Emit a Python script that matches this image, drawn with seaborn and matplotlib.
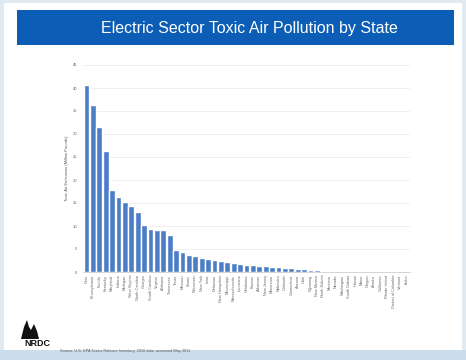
import matplotlib
matplotlib.use("Agg")
import matplotlib.pyplot as plt
from matplotlib.patches import Rectangle, Polygon
import pandas as pd
import seaborn as sns

# Electric-sector toxic air emissions by state, million pounds
states = [
    "Ohio", "Pennsylvania", "Florida", "Kentucky", "Maryland", "Indiana",
    "Michigan", "West Virginia", "North Carolina", "Georgia", "South Carolina",
    "Virginia", "Alabama", "Tennessee", "Texas", "Missouri", "Illinois",
    "Wisconsin", "New York", "Iowa", "Delaware", "New Hampshire", "Mississippi",
    "Massachusetts", "Louisiana", "Oklahoma", "Kansas", "Arkansas", "New Jersey",
    "Minnesota", "Nebraska", "Colorado", "Connecticut", "Arizona", "Utah",
    "Wyoming", "New Mexico", "North Dakota", "Montana", "Nevada", "Washington",
    "South Dakota", "Hawaii", "Maine", "Oregon", "Alaska", "California",
    "Rhode Island", "District of Columbia", "Vermont", "Idaho",
]
emissions = [
    40.7, 36.3, 31.5, 26.2, 17.8, 16.4, 15.3, 14.4, 13.1, 10.2, 9.4, 9.2,
    9.1, 8.0, 4.8, 4.3, 3.8, 3.4, 3.1, 2.8, 2.6, 2.4, 2.2, 2.0, 1.8, 1.6,
    1.5, 1.3, 1.2, 1.1, 1.0, 0.9, 0.8, 0.7, 0.6, 0.5, 0.4, 0.3, 0.2, 0.15,
    0.1, 0.08, 0.06, 0.05, 0.04, 0.03, 0.02, 0.02, 0.01, 0.01, 0.005,
]
y_ticks = [0, 5, 10, 15, 20, 25, 30, 35, 40, 45]

title = "Electric Sector Toxic Air Pollution by State"
y_label = "Toxic Air Emissions (Million Pounds)"
source = "Source: U.S. EPA Toxics Release Inventory, 2010 data, accessed May 2011"

df = pd.DataFrame({"state": states, "emissions": emissions})

sns.set_theme(style="white")
plt.rcParams["font.family"] = ["Liberation Sans", "DejaVu Sans"]

W, H = 466, 360
fig = plt.figure(figsize=(W / 100, H / 100), dpi=100)
fig.patch.set_facecolor("#e2eaf1")

# slide body, bottom band and title banner
fig.patches.append(Rectangle((4 / W, 1 - 350 / H), 458 / W, 347 / H,
                             transform=fig.transFigure, facecolor="white",
                             edgecolor="none", zorder=-2))
fig.patches.append(Rectangle((0, 0), 1, 10 / H, transform=fig.transFigure,
                             facecolor="#cbdcea", edgecolor="none", zorder=-2))
fig.patches.append(Rectangle((17 / W, 1 - 45 / H), 437 / W, 35 / H,
                             transform=fig.transFigure, facecolor="#0b5db5",
                             edgecolor="none", zorder=-1))
fig.text(249 / W, 1 - 28 / H, title, color="white", fontsize=11.5,
         ha="center", va="center", zorder=2)

ax = fig.add_axes([83 / W, 1 - 272 / H, 327 / W, 207 / H])
ax.set_zorder(5)
sns.barplot(data=df, x="state", y="emissions", color="#4b7ec6",
            saturation=1, width=0.9, ax=ax, zorder=2)
ax.set_ylim(0, 45)
ax.set_xlim(-0.55, len(states) - 0.45)
ax.set_yticks(y_ticks)
ax.set_yticklabels([str(t) for t in y_ticks], fontsize=3, color="#666666")
ax.tick_params(axis="y", length=0, pad=4)
ax.tick_params(axis="x", length=0, pad=2)
ax.set_xticks(range(len(states)))
ax.set_xticklabels(states, rotation=90, fontsize=2.8, color="#666666")
ax.set_xlabel("")
ax.set_ylabel(y_label, fontsize=3, color="#555555", labelpad=3)
ax.yaxis.grid(True, color="#ececec", linewidth=0.6, zorder=0)
ax.set_axisbelow(True)
for s in ["top", "right", "left"]:
    ax.spines[s].set_visible(False)
ax.spines["bottom"].set_color("#c4c4c4")
ax.spines["bottom"].set_linewidth(0.5)
ax.set_facecolor("none")

# NRDC mark and source note
fig.patches.append(Polygon(
    [(21 / W, 1 - 339 / H), (24 / W, 1 - 327 / H), (27 / W, 1 - 320 / H),
     (29 / W, 1 - 327 / H), (31 / W, 1 - 330 / H), (34 / W, 1 - 324 / H),
     (37 / W, 1 - 331 / H), (39 / W, 1 - 339 / H)],
    closed=True, transform=fig.transFigure, facecolor="#111111",
    edgecolor="none", zorder=3))
fig.text(37 / W, 1 - 344 / H, "NRDC", fontsize=6.5, fontweight="bold",
         color="#111111", ha="center", va="center")
fig.text(60 / W, 1 - 351 / H, source, fontsize=2.8, color="#555555",
         ha="left", va="center")

fig.savefig("out.png", dpi=100, facecolor=fig.get_facecolor())
